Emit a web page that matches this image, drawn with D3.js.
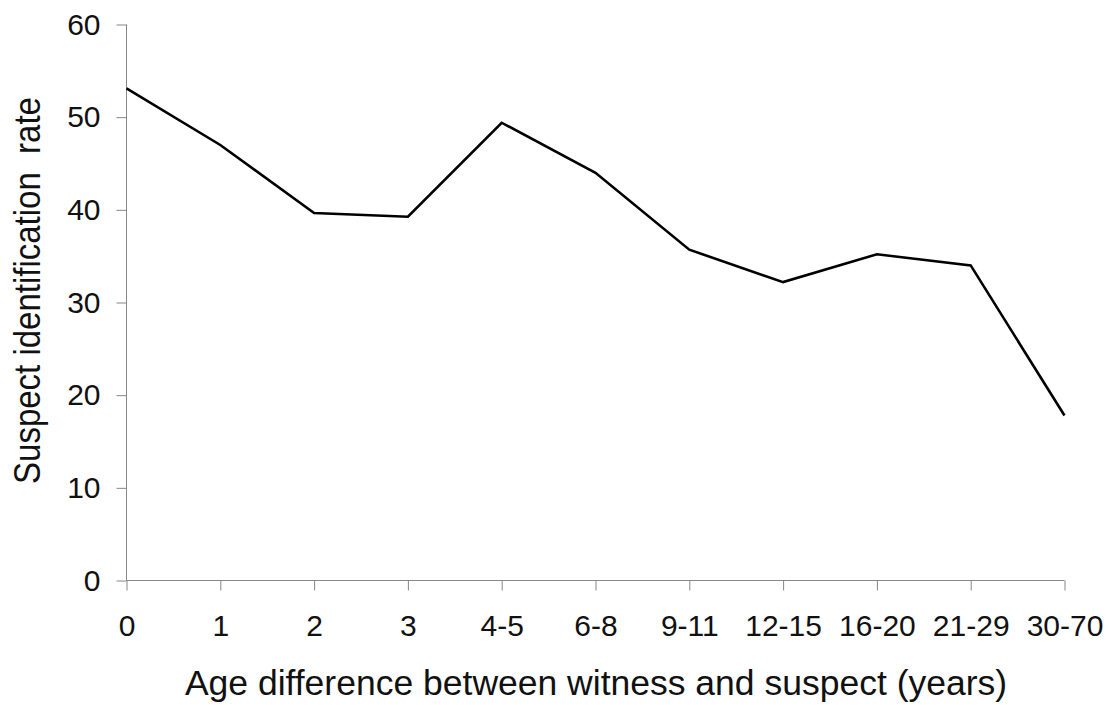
<!DOCTYPE html>
<html>
<head>
<meta charset="utf-8">
<script src="https://cdn.jsdelivr.net/npm/d3@7"></script>
<style>
  html, body { margin: 0; padding: 0; background: #fff; }
  svg { display: block; }
  text { font-family: "Liberation Sans", Arial, sans-serif; fill: #111; }
</style>
</head>
<body>
<svg id="chart" width="1111" height="705"></svg>
<script>
const categories = ["0", "1", "2", "3", "4-5", "6-8", "9-11", "12-15", "16-20", "21-29", "30-70"];
const rates = [53.1, 47.0, 39.65, 39.25, 49.4, 44.0, 35.7, 32.2, 35.2, 34.0, 17.8];
const yTicks = [0, 10, 20, 30, 40, 50, 60];
const xTitle = "Age difference between witness and suspect (years)";
const yTitle = "Suspect identification  rate";

(function () {
const svg = d3.select("#chart");
const mLeft = 126.5, mRight = 1064.5, mTop = 24.5, mBottom = 580.5;

const x = d3.scalePoint().domain(categories).range([mLeft, mRight]);
const y = d3.scaleLinear().domain([0, 60]).range([mBottom, mTop]);

const axisColor = "#878787";

// Y axis
const yAxis = svg.append("g")
  .attr("transform", `translate(${mLeft},0)`)
  .call(d3.axisLeft(y).tickValues(yTicks).tickSize(10).tickPadding(16));
yAxis.select(".domain").attr("stroke", axisColor).attr("d", `M-0,${mTop}V${mBottom}`);
yAxis.selectAll(".tick line").attr("stroke", axisColor);
yAxis.selectAll(".tick text")
  .attr("font-size", 30).attr("font-family", "Liberation Sans, Arial, sans-serif")
  .attr("fill", "#111");

// X axis
const xAxis = svg.append("g")
  .attr("transform", `translate(0,${mBottom})`)
  .call(d3.axisBottom(x).tickSize(10).tickPadding(24.5));
xAxis.select(".domain").attr("stroke", axisColor).attr("d", `M${mLeft},0H${mRight}`);
xAxis.selectAll(".tick line").attr("stroke", axisColor);
xAxis.selectAll(".tick text")
  .attr("font-size", 30).attr("font-family", "Liberation Sans, Arial, sans-serif")
  .attr("fill", "#111");

// Line
const line = d3.line()
  .x((d, i) => x(categories[i]))
  .y(d => y(d));
svg.append("path")
  .datum(rates)
  .attr("d", line)
  .attr("fill", "none")
  .attr("stroke", "#000")
  .attr("stroke-width", 2.6)
  .attr("stroke-linejoin", "miter");

// Axis titles
svg.append("text")
  .attr("x", (185 + 1007) / 2)
  .attr("y", 695)
  .attr("text-anchor", "middle")
  .attr("font-size", 35.5)
  .text(xTitle);

svg.append("text")
  .attr("transform", `translate(40,290.5) rotate(-90) scale(1,1.1)`)
  .attr("text-anchor", "middle")
  .attr("font-size", 33)
  .style("white-space", "pre")
  .text(yTitle);
})();
</script>
</body>
</html>
